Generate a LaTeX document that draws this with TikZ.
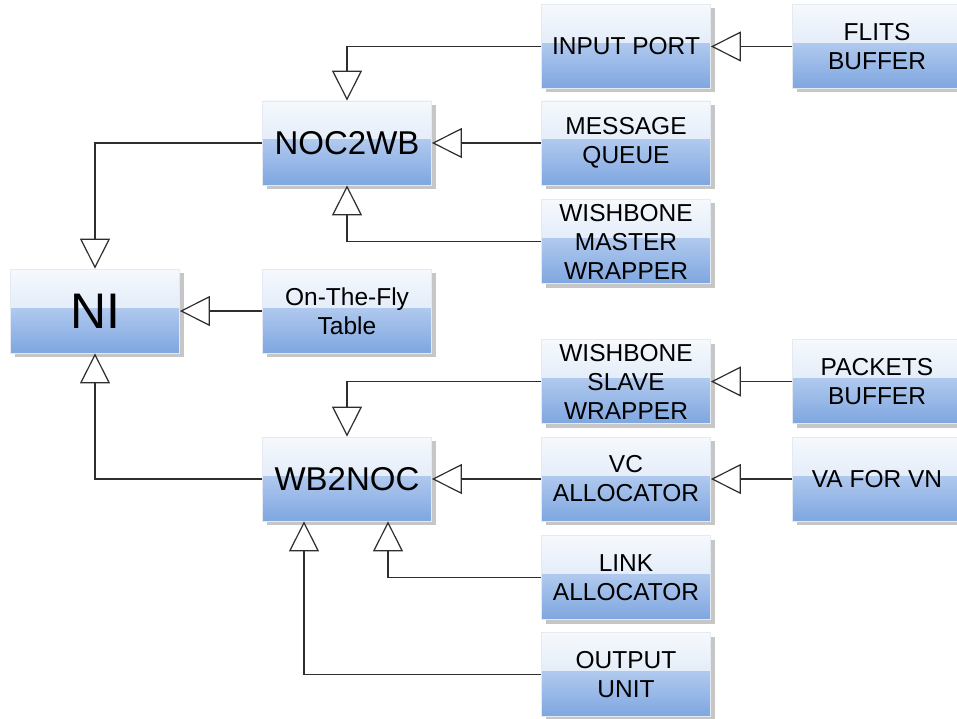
\documentclass[tikz,border=0pt]{standalone}
\usepackage{fontspec}
\setmainfont{Liberation Sans}
\usetikzlibrary{arrows.meta,shadows,positioning}
\definecolor{topA}{HTML}{F6F9FD}
\definecolor{topB}{HTML}{CFDFF4}
\definecolor{botA}{HTML}{B0C9EE}
\definecolor{botB}{HTML}{7EA6E0}
\definecolor{edgec}{HTML}{E4EAF2}
\definecolor{shadc}{HTML}{C6C6C6}
\definecolor{linec}{HTML}{2E2E2E}
\tikzset{
  x=1pt,y=-1pt,
  blk/.style={rectangle, minimum width=169pt, minimum height=84pt, inner sep=0pt,
    align=center, font=\fontsize{24.5}{29}\selectfont, text=black,
    draw=edgec, line width=0.8pt,
    drop shadow={shadow xshift=4pt, shadow yshift=-4pt, fill=shadc, opacity=1},
    path picture={
      \shade[top color=topA, bottom color=topB]
        (path picture bounding box.north west) rectangle ([yshift=3pt]path picture bounding box.east);
      \shade[top color=botA, bottom color=botB]
        ([yshift=3pt]path picture bounding box.west) rectangle (path picture bounding box.south east);
    }},
  conn/.style={draw=linec, line width=1.5pt,
    -{Triangle[open, length=30pt, width=30pt, line width=1.2pt]}},
}
\begin{document}
\begin{tikzpicture}
\useasboundingbox (0,0) rectangle (957,719);
\fill[white] (0,0) rectangle (957,719);
\node[blk] (inport) at (626,46.5) {INPUT PORT};
\node[blk] (flits) at (877,46.5) {FLITS\\BUFFER};
\node[blk, font=\fontsize{33}{38}\selectfont] (noc2wb) at (347,143) {NOC2WB};
\node[blk] (msgq) at (626,143) {MESSAGE\\QUEUE};
\node[blk] (wmw) at (626,241.5) {WISHBONE\\MASTER\\WRAPPER};
\node[blk, font=\fontsize{50}{56}\selectfont] (ni) at (95,311) {NI};
\node[blk] (otf) at (347,311) {On-The-Fly\\Table};
\node[blk] (wsw) at (626,381.5) {WISHBONE\\SLAVE\\WRAPPER};
\node[blk] (pb) at (877,381.5) {PACKETS\\BUFFER};
\node[blk, font=\fontsize{33}{38}\selectfont] (wb2noc) at (347,479) {WB2NOC};
\node[blk] (vc) at (626,479) {VC\\ALLOCATOR};
\node[blk] (va) at (877,479) {VA FOR VN};
\node[blk] (la) at (626,577.5) {LINK\\ALLOCATOR};
\node[blk] (ou) at (626,674.5) {OUTPUT\\UNIT};

\draw[conn] (flits.west) -- (inport.east);
\draw[conn] (inport.west) -| (noc2wb.north);
\draw[conn] (msgq.west) -- (noc2wb.east);
\draw[conn] (wmw.west) -| (noc2wb.south);
\draw[conn] (noc2wb.west) -| (ni.north);
\draw[conn] (otf.west) -- (ni.east);
\draw[conn] (wb2noc.west) -| (ni.south);
\draw[conn] (pb.west) -- (wsw.east);
\draw[conn] (wsw.west) -| (wb2noc.north);
\draw[conn] (va.west) -- (vc.east);
\draw[conn] (vc.west) -- (wb2noc.east);
\draw[conn] (la.west) -| ([xshift=41pt]wb2noc.south);
\draw[conn] (ou.west) -| ([xshift=-43pt]wb2noc.south);
\end{tikzpicture}
\end{document}
